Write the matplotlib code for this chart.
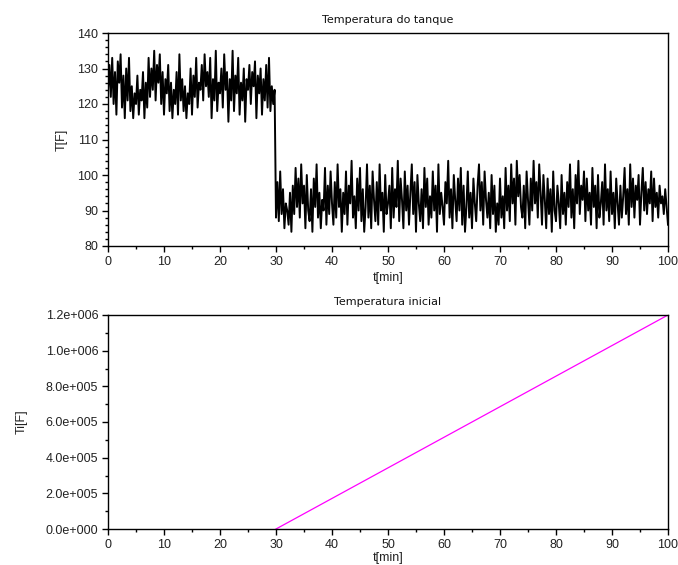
import numpy as np
import matplotlib
matplotlib.use("Agg")
import matplotlib.pyplot as plt
from matplotlib.ticker import MultipleLocator, FixedLocator, FixedFormatter

plt.rcParams['font.family'] = ['Liberation Sans', 'DejaVu Sans']

# ---------------- data ----------------
sample_step = 0.25  # minutes between samples
switch_time = 30.0

temp_before = [
    124, 131, 122, 133, 120, 129, 117, 132,
    126, 134, 119, 128, 116, 130, 121, 133,
    118, 125, 116, 123, 120, 128, 117, 124,
    121, 129, 116, 126, 119, 133, 122, 130,
    124, 135, 121, 131, 126, 134, 120, 129,
    117, 127, 123, 131, 118, 126, 116, 124,
    120, 129, 117, 134, 121, 127, 118, 125,
    116, 123, 120, 130, 117, 128, 122, 133,
    119, 126, 124, 131, 121, 134, 125, 129,
    122, 133, 116, 127, 121, 135, 118, 126,
    123, 130, 119, 134, 124, 129, 115, 127,
    121, 135, 118, 128, 123, 133, 117, 126,
    121, 130, 115, 127, 124, 131, 120, 129,
    125, 132, 116, 128, 123, 130, 117, 127,
    121, 131, 119, 133, 118, 125, 120, 124,
]

temp_after = [
    88, 98, 87, 101, 89, 96, 85, 92,
    90, 86, 95, 84, 97, 89, 102, 91,
    99, 88, 103, 92, 97, 85, 100, 90,
    87, 96, 84, 99, 91, 103, 88, 95,
    85, 93, 90, 102, 86, 97, 89, 101,
    92, 86, 98, 88, 103, 91, 96, 84,
    95, 89, 101, 86, 97, 92, 104, 88,
    94, 85, 99, 90, 102, 87, 96, 84,
    91, 103, 88, 97, 85, 101, 93, 87,
    98, 86, 103, 90, 95, 84, 100, 89,
    92, 97, 85, 102, 88, 96, 91, 104,
    87, 99, 93, 85, 101, 90, 97, 86,
    95, 103, 89, 98, 84, 100, 92, 87,
    96, 85, 102, 91, 99, 86, 94, 88,
    101, 90, 97, 84, 103, 89, 95, 91,
    86, 98, 92, 104, 88, 96, 85, 100,
    93, 87, 99, 90, 102, 86, 97, 84,
    91, 101, 88, 95, 85, 99, 92, 87,
    97, 103, 90, 98, 86, 101, 93, 88,
    95, 85, 100, 89, 97, 84, 92, 86,
    99, 88, 94, 85, 102, 90, 97, 87,
    103, 92, 99, 86, 104, 94, 100, 91,
    88, 97, 85, 101, 93, 86, 99, 90,
    104, 92, 98, 88, 103, 95, 86, 100,
    93, 85, 99, 89, 96, 84, 101, 90,
    87, 97, 92, 85, 100, 89, 95, 86,
    98, 91, 103, 88, 96, 85, 100, 92,
    104, 89, 97, 93, 101, 87, 99, 90,
    95, 86, 102, 91, 97, 85, 100, 88,
    92, 98, 86, 103, 90, 96, 87, 101,
    89, 95, 85, 99, 92, 86, 97, 88,
    94, 102, 89, 96, 86, 103, 91, 99,
    88, 97, 93, 100, 86, 95, 102, 90,
    98, 89, 96, 92, 101, 87, 99, 91,
    95, 88, 97, 92, 94, 89, 96, 91,
    86,
]

ti_time = [30, 100]
ti_values = [0.0, 1.2e6]

x_ticks = [0, 10, 20, 30, 40, 50, 60, 70, 80, 90, 100]
temp_ticks = [80, 90, 100, 110, 120, 130, 140]
ti_ticks = [0.0, 2e5, 4e5, 6e5, 8e5, 1e6, 1.2e6]
ti_tick_labels = ["0.0e+000", "2.0e+005", "4.0e+005", "6.0e+005",
                  "8.0e+005", "1.0e+006", "1.2e+006"]

# --------------- build series ---------------
t_before = np.arange(len(temp_before)) * sample_step
t_after = switch_time + np.arange(len(temp_after)) * sample_step
t_all = np.concatenate([t_before, t_after])
temp_all = np.concatenate([temp_before, temp_after])

# --------------- figure ---------------
fig = plt.figure(figsize=(6.78, 5.65), dpi=100)
ax1 = fig.add_axes([108/678, 1-246/565, 560/678, 213/565])
ax2 = fig.add_axes([108/678, 1-529/565, 560/678, 214/565])

label_kw = dict(fontsize=9, color='#222222')
title_kw = dict(fontsize=8, family=['DejaVu Sans'], color='#111111')


def style(ax):
    for s in ax.spines.values():
        s.set_color('black')
        s.set_linewidth(1.0)
    ax.tick_params(which='both', direction='out', colors='black',
                   labelsize=9, labelcolor='#222222', top=False, right=False)
    ax.tick_params(which='major', length=4, width=1, pad=3)
    ax.tick_params(which='minor', length=2.5, width=1)
    ax.set_xlim(0, 100)
    ax.xaxis.set_major_locator(FixedLocator(x_ticks))
    ax.xaxis.set_minor_locator(MultipleLocator(5))


ax1.plot(t_all, temp_all, color='black', linewidth=1.4)
style(ax1)
ax1.set_ylim(80, 140)
ax1.yaxis.set_major_locator(FixedLocator(temp_ticks))
ax1.yaxis.set_minor_locator(MultipleLocator(2))
ax1.set_title("Temperatura do tanque", pad=7.5, **title_kw)
ax1.set_xlabel("t[min]", labelpad=3, **label_kw)
ax1.set_ylabel("T[F]", labelpad=7, **label_kw)

ax2.plot(ti_time, ti_values, color='#ff00ff', linewidth=0.9)
style(ax2)
ax2.set_ylim(0, 1.2e6)
ax2.yaxis.set_major_locator(FixedLocator(ti_ticks))
ax2.yaxis.set_major_formatter(FixedFormatter(ti_tick_labels))
ax2.yaxis.set_minor_locator(MultipleLocator(1e5))
ax2.set_title("Temperatura inicial", pad=7.5, **title_kw)
ax2.set_xlabel("t[min]", labelpad=1, **label_kw)
ax2.set_ylabel("Ti[F]", labelpad=13, **label_kw)

fig.savefig("out.png", dpi=100)
